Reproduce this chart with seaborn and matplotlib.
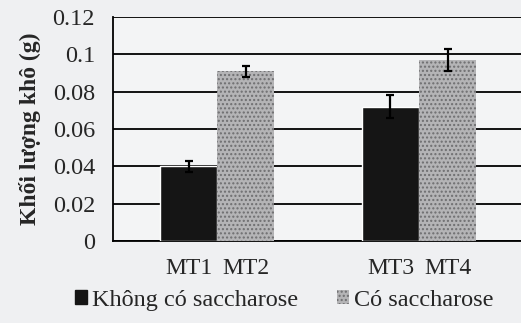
import numpy as np
import pandas as pd
import matplotlib
matplotlib.use("Agg")
import matplotlib.pyplot as plt
import seaborn as sns
from matplotlib.patches import Patch

groups = ["G1", "G1", "G2", "G2"]
series = ["Không có saccharose", "Có saccharose", "Không có saccharose", "Có saccharose"]
bar_labels = ["MT1", "MT2", "MT3", "MT4"]
values = [0.040, 0.091, 0.072, 0.097]
errors = [0.003, 0.003, 0.006, 0.006]
yticks = [0, 0.02, 0.04, 0.06, 0.08, 0.1, 0.12]
ytick_labels = ["0", "0.02", "0.04", "0.06", "0.08", "0.1", "0.12"]

df = pd.DataFrame({"group": groups, "series": series, "value": values})

sns.set_style("white")
plt.rcParams["font.family"] = ["Liberation Serif", "DejaVu Serif"]

bg = "#EFF0F2"
fig = plt.figure(figsize=(5.21, 3.23), dpi=100, facecolor=bg)
ax = fig.add_axes([0.217, 0.254, 0.80, 0.693], facecolor="#F3F4F5")

palette = {"Không có saccharose": "#151515", "Có saccharose": "#B4B4B6"}
sns.barplot(data=df, x="group", y="value", hue="series", palette=palette,
            width=0.565, ax=ax, legend=False, saturation=1, errorbar=None,
            hue_order=["Không có saccharose", "Có saccharose"], zorder=3)

order = []
for p in ax.patches:
    order.append((p.get_x() + p.get_width() / 2, p))
order.sort(key=lambda t: t[0])
centers = []
for (cx, p), v, e in zip(order, values, errors):
    if p.get_facecolor()[0] > 0.5:
        p.set_hatch("....")
        p.set_edgecolor("#6E6E70")
        p.set_linewidth(0)
    centers.append(cx)
    ax.errorbar(cx, v, yerr=e, fmt="none", ecolor="black", elinewidth=1.6,
                capsize=3, capthick=1.6, zorder=5)

ax.set_ylim(0, 0.12)
ax.set_xlim(-0.515, 1.549)
ax.set_yticks(yticks)
ax.set_yticklabels(ytick_labels, fontsize=17.5)
ax.yaxis.grid(True, color="black", linewidth=1.3, zorder=0)
ax.set_axisbelow(True)
ax.tick_params(axis="y", length=6, width=1.3, color="black", pad=7)

ax.set_xticks(centers)
ax.set_xticklabels(bar_labels, fontsize=17)
ax.set_xticks([0.5], minor=True)
ax.tick_params(axis="x", which="major", length=0, pad=12)
ax.tick_params(axis="x", which="minor", length=5, width=1.2, color="black", direction="out")
ax.set_xlabel("")
ax.set_ylabel("Khối lượng khô (g)", fontsize=17, fontweight="bold", labelpad=8)

for s in ["top", "right"]:
    ax.spines[s].set_visible(False)
ax.spines["left"].set_color("black")
ax.spines["left"].set_linewidth(1.3)
ax.spines["bottom"].set_color("black")
ax.spines["bottom"].set_linewidth(1.3)

handles = [Patch(facecolor="#151515", edgecolor="#151515"),
           Patch(facecolor="#B4B4B6", edgecolor="#6E6E70", hatch="....", linewidth=0)]
fig.legend(handles, ["Không có saccharose", "Có saccharose"], loc="center",
           bbox_to_anchor=(0.545, 0.07), ncol=2, frameon=False, fontsize=17.5,
           handlelength=0.5, handleheight=0.5, handletextpad=0.2, columnspacing=1.6)

fig.savefig("out.png", dpi=100, facecolor=bg)
